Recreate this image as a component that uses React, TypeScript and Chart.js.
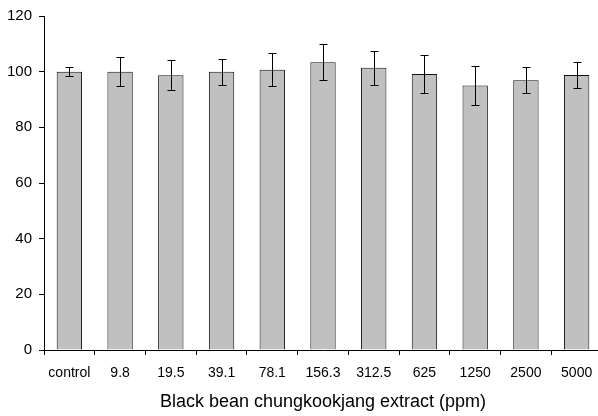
import React, { useEffect, useRef } from "react";
import { Chart, registerables } from "chart.js";

Chart.register(...registerables);

const categories = ["control", "9.8", "19.5", "39.1", "78.1", "156.3", "312.5", "625", "1250", "2500", "5000"];
const means = [100, 100, 98.7, 100, 100.7, 103.4, 101.4, 99.2, 95, 96.9, 98.8];
const errors = [1.5, 5.1, 5.4, 4.7, 6.0, 6.5, 6.2, 6.7, 7.0, 4.7, 4.8];
const yTicks = [0, 20, 40, 60, 80, 100, 120];
const xTitle = "Black bean chungkookjang extract (ppm)";

const errorBarPlugin = {
  id: "errorBars",
  afterDatasetsDraw(chart: any) {
    const meta = chart.getDatasetMeta(0);
    const y = chart.scales.y;
    const ctx = chart.ctx;
    ctx.save();
    ctx.strokeStyle = "#000";
    ctx.lineWidth = 1;
    meta.data.forEach((bar: any, i: number) => {
      const x = Math.round(bar.x) + 0.5;
      const top = Math.round(y.getPixelForValue(means[i] + errors[i])) + 0.5;
      const bot = Math.round(y.getPixelForValue(means[i] - errors[i])) + 0.5;
      const cap = 4;
      ctx.beginPath();
      ctx.moveTo(x, top);
      ctx.lineTo(x, bot);
      ctx.moveTo(x - cap, top);
      ctx.lineTo(x + cap, top);
      ctx.moveTo(x - cap, bot);
      ctx.lineTo(x + cap, bot);
      ctx.stroke();
    });
    ctx.restore();
  },
};

export default function App() {
  const ref = useRef<HTMLCanvasElement | null>(null);
  useEffect(() => {
    if (!ref.current) return;
    const font = "Arial, 'Liberation Sans', sans-serif";
    const chart = new Chart(ref.current, {
      type: "bar",
      data: {
        labels: categories,
        datasets: [
          {
            data: means,
            backgroundColor: "#c0c0c0",
            borderColor: "#111",
            borderWidth: 1,
            categoryPercentage: 1,
            barPercentage: 0.5,
          },
        ],
      },
      options: {
        responsive: false,
        animation: false,
        layout: { padding: { top: 13, left: 0, right: 2, bottom: 0 } },
        plugins: { legend: { display: false }, tooltip: { enabled: false } },
        scales: {
          x: {
            grid: { offset: true, drawOnChartArea: false, drawTicks: true, tickLength: 5, tickColor: "#000" },
            border: { display: true, color: "#000", width: 1 },
            ticks: { color: "#000", font: { family: font, size: 14 }, padding: 10, maxRotation: 0, autoSkip: false },
            title: { display: true, text: xTitle, color: "#000", font: { family: font, size: 18 }, padding: { top: 0, bottom: 3 } },
            afterFit: (s: any) => { s.height = 66; },
          },
          y: {
            min: 0,
            max: 120,
            afterBuildTicks: (s: any) => { s.ticks = yTicks.map((v) => ({ value: v })); },
            grid: { drawOnChartArea: false, drawTicks: true, tickLength: 5, tickColor: "#000" },
            border: { display: true, color: "#000", width: 1 },
            ticks: { color: "#000", font: { family: font, size: 15 }, padding: 7 },
            afterFit: (s: any) => { s.width = 44; },
          },
        },
      },
      plugins: [errorBarPlugin],
    });
    return () => chart.destroy();
  }, []);
  return (
    <div style={{ position: "fixed", left: 0, top: 0, width: 598, height: 416, overflow: "hidden", background: "#fff" }}>
      <canvas ref={ref} width={604} height={416} style={{ width: 604, height: 416, display: "block" }} />
    </div>
  );
}
